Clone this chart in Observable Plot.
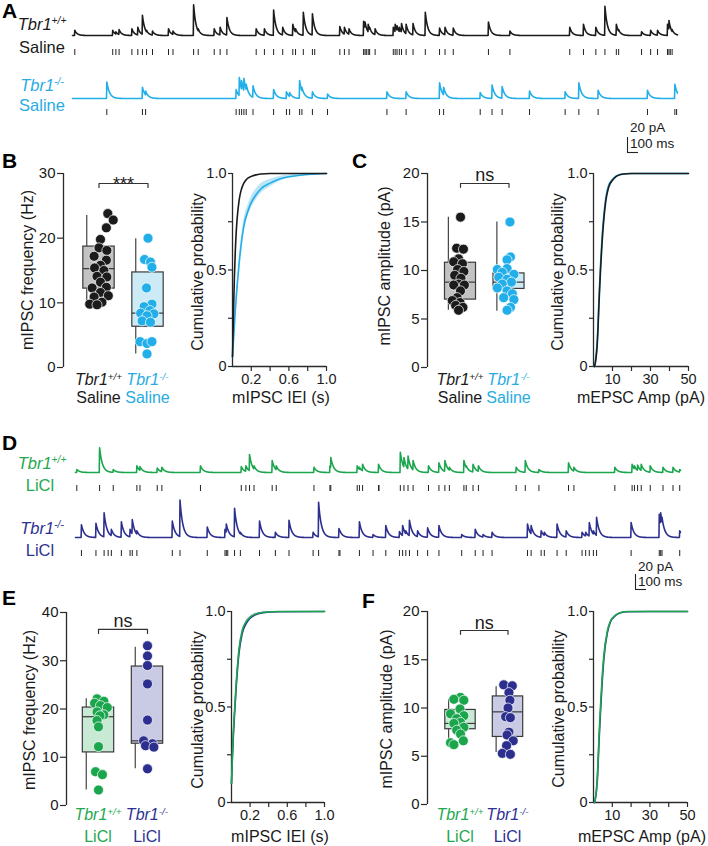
<!DOCTYPE html>
<html><head><meta charset="utf-8">
<script src="https://cdn.jsdelivr.net/npm/d3@7"></script>
<script src="https://cdn.jsdelivr.net/npm/@observablehq/plot@0.6"></script>
<style>
html,body{margin:0;padding:0;background:#fff;}
#root{position:relative;width:708px;height:846px;overflow:hidden;background:#fff;font-family:'Liberation Sans',Arial,Helvetica,sans-serif;color:#1a1a1a;}
.lbl{position:absolute;white-space:nowrap;line-height:1;}
.lbl sup{font-size:0.62em;line-height:0;vertical-align:0.55em;}
</style></head><body><div id="root"></div>
<script>
// ================= DATA =================
// Panel A / D traces: event times (ms) and peak amplitudes (pA)
const traceDomainA = [0, 5520];
const traceDomainD = [0, 5500];
const wtSalineEventMs = [21,367,396,425,542,596,638,676,730,876,917,1105,1147,1293,1347,1409,1676,1751,1835,1918,2010,2035,2106,2189,2210,2439,2481,2523,2656,2669,2681,2698,2711,2761,2927,2944,2961,2982,3002,3044,3107,3219,3349,3399,3474,3795,3991,4537,4662,4775,4858,4962,4983,5192,5275,5338,5429,5442,5454,5471];
const wtSalineEventPA = [7,7,5,8,9,11,27,7,6,9,6,41,9,9,11,24,9,9,34,11,15,9,31,29,8,12,11,9,19,18,10,15,11,9,11,15,13,11,16,15,16,31,10,11,10,18,6,11,15,11,39,15,8,5,7,7,15,20,10,8];
const koSalineEventMs = [313,638,667,1493,1522,1543,1564,1585,1647,1835,1952,1981,2072,2093,2189,2327,2869,3044,3349,3386,3720,3828,3920,4170,4495,4620,4796,5246,5496,5512];
const koSalineEventPA = [22,15,10,12,28,24,27,19,17,12,9,8,24,15,9,6,9,9,21,15,8,18,16,10,9,21,11,11,19,10];
const wtLiClEventMs = [12,219,343,558,586,743,785,1136,1507,1549,1582,1623,1788,1825,2168,2313,2321,2561,2581,2610,2755,2759,2953,2986,3023,3069,3209,3304,3358,3399,3531,3552,3614,3663,4006,4089,4213,4482,4531,4903,5060,5081,5110,5143,5225,5341,5432,5493];
const wtLiClEventPA = [4,33,4,9,8,6,7,9,8,9,24,9,16,9,7,9,20,9,7,11,11,5,27,20,22,16,9,13,16,7,16,9,11,9,7,16,4,13,7,7,11,9,10,11,9,7,7,4];
const koLiClEventMs = [54,186,260,297,326,417,496,516,558,880,950,1198,1359,1371,1384,1446,1499,1673,1817,1941,2160,2210,2395,2404,2581,2705,2821,2945,2974,3003,3036,3110,3201,3304,3511,3634,3705,3787,4109,4142,4233,4262,4378,4461,4605,4638,4671,4708,4737,5051,5307,5320,5332,5493];
const koLiClEventPA = [17,19,33,7,11,21,11,24,9,22,50,14,11,18,11,39,7,22,7,23,7,47,12,9,21,4,16,8,16,9,23,9,13,16,4,11,4,7,18,16,9,7,18,9,7,7,20,9,27,20,31,33,27,9];
const scaleBarPA = 20, scaleBarMs = 100;

// Group labels
const genotypeSup = ["+/+", "-/-"];
const treatmentTop = ["Saline", "Saline"];
const treatmentBottom = ["LiCl", "LiCl"];

// Box stats: [whisker low, Q1, median, Q3, whisker high]
const freqSalineWTStats = [10.0, 12.2, 15.3, 18.7, 23.5];
const freqSalineKOStats = [2.1, 6.3, 8.4, 14.7, 19.9];
const ampSalineWTStats = [5.9, 7.0, 8.8, 10.8, 15.5];
const ampSalineKOStats = [5.8, 8.1, 8.8, 9.7, 15.0];
const freqLiClWTStats = [3.2, 11.0, 18.4, 20.3, 22.1];
const freqLiClKOStats = [7.6, 12.8, 13.4, 28.8, 32.8];
const ampLiClWTStats = [6.2, 7.8, 8.4, 9.8, 10.9];
const ampLiClKOStats = [5.4, 7.0, 9.6, 11.2, 12.2];

// Individual cells (value) and their horizontal jitter (group units)
const freqSalineWT = [23.8,22.8,21.6,19.8,18.5,18.1,17.2,16.6,15.8,15.4,15.0,14.1,14.0,13.2,12.4,12.3,11.6,11.1,10.9,10.1,9.8,9.7];
const freqSalineWTJit = [0.18,0.29,0.15,0.03,0,0.16,-0.10,0.15,0.03,-0.09,0.10,-0.04,0.16,0.03,0.15,-0.14,0.03,0.19,-0.10,0.06,-0.19,-0.04];
const freqSalineKO = [20.0,16.7,16.3,15.5,12.3,9.8,9.4,8.8,8.4,8.3,8.0,7.2,7.0,4.0,3.7,4.0,2.1];
const freqSalineKOJit = [0,-0.07,0.05,0.08,-0.03,0.08,-0.08,0.04,-0.15,0.12,-0.02,-0.12,0.05,-0.16,-0.02,0.08,-0.02];
const ampSalineWT = [15.5,12.3,12.2,11.2,10.9,10.7,10.1,9.9,9.5,9.2,8.6,8.5,8.5,7.9,7.2,6.9,6.7,6.4,6.2,5.9];
const ampSalineWTJit = [0,-0.08,0.06,-0.04,-0.14,0.04,-0.06,0.07,-0.12,0.01,-0.04,-0.14,0.08,0,-0.07,-0.17,-0.01,-0.10,0.05,-0.04];
const ampSalineKO = [15.0,11.4,11.1,10.2,10.1,9.8,9.6,9.3,9.1,8.8,8.6,8.2,7.9,7.6,7.2,7.0,6.2,5.9];
const ampSalineKOJit = [0.02,0.03,-0.04,-0.04,-0.24,-0.14,0.10,-0.21,-0.04,0.05,-0.14,-0.24,-0.04,0.07,-0.11,0.10,0.03,-0.04];
const freqLiClWT = [22.1,21.6,21.2,20.7,20.3,19.4,18.8,18.6,17.6,16.3,12.2,7.0,6.4,3.2];
const freqLiClWTJit = [-0.03,0.11,-0.08,0.04,0.18,-0.03,0.11,0.03,-0.03,0,0,-0.06,0.08,0];
const freqLiClKO = [33.1,31.0,29.0,25.2,17.7,13.4,12.8,12.4,12.1,7.6];
const freqLiClKOJit = [0,0,0,0,0,-0.08,0.10,-0.04,0.13,0];
const ampLiClWT = [11.1,10.9,10.8,9.9,9.4,9.2,8.9,8.5,8.4,8.0,7.7,7.3,6.6,6.4,6.2];
const ampLiClWTJit = [0,-0.14,0.07,-0.01,-0.21,0.07,-0.08,0,-0.14,0.07,-0.08,0,0.06,-0.21,-0.14];
const ampLiClKO = [12.4,12.3,11.6,10.8,10.0,9.1,9.0,7.5,7.2,6.6,6.1,5.3,5.2];
const ampLiClKOJit = [-0.09,0.09,0.02,0.04,0,-0.05,0.05,0.02,-0.02,0.11,-0.03,-0.12,0.05];

// Cumulative distributions
const ieiWTSalineX = [0,0.005,0.01,0.02,0.03,0.04,0.05,0.07,0.09,0.12,0.15,0.2,0.25,0.3,0.4,0.6,1.0];
const ieiWTSalineY = [0.05,0.15,0.27,0.46,0.6,0.7,0.77,0.86,0.91,0.95,0.97,0.985,0.993,0.997,1,1,1];
const ieiKOSalineX = [0,0.01,0.02,0.03,0.05,0.07,0.10,0.13,0.16,0.20,0.25,0.30,0.40,0.50,0.60,0.70,0.80,0.90,1.0];
const ieiKOSalineY = [0.05,0.13,0.21,0.29,0.42,0.53,0.66,0.75,0.80,0.85,0.89,0.92,0.95,0.972,0.983,0.99,0.995,0.998,1.0];
const ieiKOSalineLo = [0.05,0.12,0.195,0.27,0.395,0.50,0.63,0.72,0.77,0.82,0.862,0.895,0.93,0.959,0.974,0.984,0.991,0.996,1.0];
const ieiKOSalineHi = [0.05,0.14,0.225,0.31,0.445,0.56,0.69,0.78,0.83,0.88,0.918,0.945,0.97,0.985,0.992,0.996,0.999,1.0,1.0];
const ampSalineCumX = [0.5,1,2,3,3.7,4.5,5.5,6.5,8,10,12,15,20,30,50];
const ampWTSalineCumY = [0,0.02,0.12,0.35,0.5,0.64,0.77,0.86,0.93,0.965,0.985,0.996,1,1,1];
const ampKOSalineCumY = [0,0.03,0.14,0.38,0.53,0.67,0.79,0.875,0.94,0.97,0.987,0.997,1,1,1];
const ieiLiClX = [0,0.01,0.02,0.035,0.05,0.08,0.115,0.15,0.2,0.25,0.34,0.5,1.0];
const ieiWTLiClY = [0.1,0.25,0.37,0.5,0.62,0.8,0.9,0.94,0.97,0.985,0.995,1,1];
const ieiKOLiClY = [0.1,0.24,0.35,0.48,0.6,0.78,0.885,0.93,0.965,0.982,0.994,0.999,1];
const ieiKOLiClLo = [0.1,0.23,0.335,0.46,0.58,0.76,0.865,0.915,0.955,0.975,0.99,0.998,1];
const ieiKOLiClHi = [0.1,0.25,0.365,0.5,0.62,0.8,0.9,0.945,0.975,0.99,0.998,1,1];
const ampLiClCumX = [0.5,1,2,3,3.7,4.5,5.5,7.4,9,11.6,14,18,30,50];
const ampWTLiClCumY = [0,0.02,0.13,0.36,0.5,0.64,0.77,0.9,0.95,0.98,0.993,1,1,1];
const ampKOLiClCumY = [0,0.02,0.11,0.33,0.47,0.61,0.75,0.89,0.945,0.978,0.992,0.999,1,1];

// Axis ticks and labels
const freqTicksSaline = [0, 10, 20, 30];
const ampTicksBox = [0, 5, 10, 15, 20];
const freqTicksLiCl = [0, 10, 20, 30, 40];
const cumTicks = [0, 0.25, 0.5, 0.75, 1];
const cumTickLabels = ["0", "", "0.5", "", "1.0"];
const ieiTicks = [0.2, 0.4, 0.6, 0.8, 1.0];
const ieiTickLabels = ["0.2", "", "0.6", "", "1.0"];
const ampTicks = [10, 20, 30, 40, 50];
const ampTickLabels = ["10", "", "30", "", "50"];

// ================= RENDER =================
const root = document.getElementById("root");
const W = 708, H = 846;
const FONT = "'Liberation Sans', Arial, Helvetica, sans-serif";
const BLACK = "#1b1b1b", BLUE = "#22aee8", GREEN = "#1ba64e", NAVY = "#2c2f8e";
const AXC = "#2a2a2a";
const K = 0.75; // px per pA

function addPlot({l, r, t, b, x, y, marks}) {
  const svg = Plot.plot({
    width: W, height: H,
    marginLeft: l, marginRight: W - r, marginTop: t, marginBottom: H - b,
    x, y, marks,
    style: `background: transparent; font-family: ${FONT}; color: #1a1a1a; position: absolute; left: 0; top: 0; overflow: visible;`
  });
  root.appendChild(svg);
}

function label(html, x, y, {size = 16, color = "#1a1a1a", anchor = "middle", weight = "normal", rotate = 0} = {}) {
  const d = document.createElement("div");
  d.className = "lbl";
  d.innerHTML = html;
  d.style.left = x + "px"; d.style.top = y + "px";
  d.style.fontSize = size + "px"; d.style.color = color; d.style.fontWeight = weight;
  const tx = anchor === "start" ? "0" : anchor === "end" ? "-100%" : "-50%";
  d.style.transform = `translate(${tx}, -50%)` + (rotate ? ` rotate(${rotate}deg)` : "");
  root.appendChild(d);
}
const geno = (s) => `<i>Tbr1<sup>${s}</sup></i>`;

function traceSeries(times, amps, tEnd, tau) {
  const pts = [];
  for (let t = 0; t <= tEnd; t += 1) {
    let v = 0;
    for (let i = 0; i < times.length; i++) {
      const dt = t - times[i];
      let e = 0;
      if (dt >= 0) e = amps[i] * Math.exp(-dt / tau);
      else if (dt > -3) e = amps[i] * (1 + dt / 3);
      if (e > v) v = e;
    }
    pts.push({t, v});
  }
  return pts;
}

function traceRow({times, amps, color, dom, l, r, top, bottom, baseline, tickTop, tickBottom, tau}) {
  addPlot({l, r, t: top, b: bottom,
    x: {domain: dom, axis: null},
    y: {domain: [-(bottom - baseline) / K, (baseline - top) / K], axis: null},
    marks: [Plot.line(traceSeries(times, amps, dom[1], tau), {x: "t", y: "v", stroke: color, strokeWidth: 1.6, strokeLinejoin: "round"})]
  });
  addPlot({l, r, t: tickTop, b: tickBottom,
    x: {domain: dom, axis: null},
    marks: [Plot.tickX(times, {x: d => d, stroke: "#222", strokeWidth: 1})]
  });
}

function scaleBar({dom, l, r, barX, barBottom}) {
  const tb = dom[1] * (barX - l) / (r - l);
  const top = barBottom - 40, bottom = barBottom + 5;
  addPlot({l, r, t: top, b: bottom,
    x: {domain: dom, axis: null},
    y: {domain: [-(bottom - barBottom) / K, (barBottom - top) / K], axis: null},
    marks: [
      Plot.ruleX([tb], {y1: 0, y2: scaleBarPA, stroke: "#222", strokeWidth: 1.1}),
      Plot.ruleY([0], {x1: tb, x2: tb + scaleBarMs, stroke: "#222", strokeWidth: 1.1})
    ]
  });
}

function boxPanel({l, r, t, b, c0, sp, yDomain, yTicks, groups, bracketY, tip, sig, sigDy}) {
  const xd = [(l - c0) / sp, (r - c0) / sp];
  const marks = [
    Plot.ruleX([xd[0]], {y1: yDomain[0], y2: yDomain[1], stroke: AXC, strokeWidth: 1.3}),
    Plot.axisY({ticks: yTicks, tickSize: 6, tickPadding: 2, fontSize: 15, label: null, tickFormat: d => String(d), stroke: AXC, strokeWidth: 1.2})
  ];
  groups.forEach((g, gi) => {
    const [lo, q1, med, q3, hi] = g.stats;
    marks.push(Plot.ruleX([gi - 0.25], {y1: lo, y2: hi, stroke: "#444", strokeWidth: 1.2}));
    marks.push(Plot.rect([g.stats], {x1: gi - 0.32, x2: gi + 0.32, y1: q1, y2: q3, fill: g.fill, stroke: "#3a3a3a", strokeWidth: 1.2}));
    marks.push(Plot.ruleY([med], {x1: gi - 0.32, x2: gi + 0.32, stroke: "#3a3a3a", strokeWidth: 1.2}));
    marks.push(Plot.dot(g.values.map((v, i) => ({x: gi + g.jit[i], y: v})), {x: "x", y: "y", r: 5, fill: g.color, stroke: "white", strokeWidth: 0.7}));
  });
  marks.push(Plot.line([{x: 0, y: bracketY - tip}, {x: 0, y: bracketY}, {x: 1, y: bracketY}, {x: 1, y: bracketY - tip}], {x: "x", y: "y", stroke: "#333", strokeWidth: 1.2}));
  marks.push(Plot.text([sig], {x: 0.5, y: bracketY, text: d => d, lineAnchor: "bottom", fontSize: 18, dy: sigDy, fill: "#1a1a1a"}));
  addPlot({l, r, t, b, x: {domain: xd, axis: null}, y: {domain: yDomain}, marks});
}

function cumPanel({l, r, t, b, xDomain, xTicks, xTickLabels, curves}) {
  const marks = [
    Plot.ruleX([xDomain[0]], {stroke: AXC, strokeWidth: 1.3}),
    Plot.ruleY([0], {stroke: AXC, strokeWidth: 1.3}),
    Plot.axisY({ticks: cumTicks, tickSize: 4, tickPadding: 2, fontSize: 14.5, label: null, tickFormat: d => cumTickLabels[cumTicks.indexOf(d)], stroke: AXC, strokeWidth: 1.2}),
    Plot.axisX({ticks: xTicks, tickSize: 5, tickPadding: 2, fontSize: 14.5, label: null, tickFormat: d => xTickLabels[xTicks.indexOf(d)], stroke: AXC, strokeWidth: 1.2})
  ];
  curves.forEach(c => {
    if (c.lo) marks.push(Plot.areaY(c.x.map((x, i) => ({x, lo: c.lo[i], hi: c.hi[i]})), {x: "x", y1: "lo", y2: "hi", fill: c.band, fillOpacity: 0.75, curve: "monotone-x"}));
  });
  curves.forEach(c => {
    marks.push(Plot.line(c.x.map((x, i) => ({x, y: c.y[i]})), {x: "x", y: "y", stroke: c.color, strokeWidth: 1.6, curve: "monotone-x"}));
  });
  addPlot({l, r, t, b, x: {domain: xDomain}, y: {domain: [0, 1]}, marks});
}

// ---- Panel A ----
traceRow({times: wtSalineEventMs, amps: wtSalineEventPA, color: BLACK, dom: traceDomainA, l: 72, r: 677, top: 0, bottom: 47, baseline: 35, tickTop: 49, tickBottom: 55, tau: 22});
traceRow({times: koSalineEventMs, amps: koSalineEventPA, color: BLUE, dom: traceDomainA, l: 72, r: 677, top: 60, bottom: 108, baseline: 98, tickTop: 109, tickBottom: 115, tau: 25});
scaleBar({dom: traceDomainA, l: 72, r: 677, barX: 627, barBottom: 152});

// ---- Panel D ----
traceRow({times: wtLiClEventMs, amps: wtLiClEventPA, color: GREEN, dom: traceDomainD, l: 75, r: 680, top: 435, bottom: 482, baseline: 472, tickTop: 485, tickBottom: 491, tau: 25});
traceRow({times: koLiClEventMs, amps: koLiClEventPA, color: NAVY, dom: traceDomainD, l: 75, r: 680, top: 495, bottom: 547, baseline: 537, tickTop: 550, tickBottom: 556, tau: 25});
scaleBar({dom: traceDomainD, l: 75, r: 680, barX: 635, barBottom: 589});

// ---- Panel B ----
boxPanel({l: 63, r: 178, t: 173, b: 367, c0: 98.5, sp: 49, yDomain: [0, 30], yTicks: freqTicksSaline,
  groups: [
    {stats: freqSalineWTStats, values: freqSalineWT, jit: freqSalineWTJit, color: BLACK, fill: "#c2c2c2"},
    {stats: freqSalineKOStats, values: freqSalineKO, jit: freqSalineKOJit, color: BLUE, fill: "#cdeaf7"}
  ], bracketY: 28.45, tip: 0.6, sig: "***", sigDy: 6});
cumPanel({l: 232, r: 326, t: 173, b: 366, xDomain: [0, 1], xTicks: ieiTicks, xTickLabels: ieiTickLabels,
  curves: [
    {x: ieiKOSalineX, y: ieiKOSalineY, lo: ieiKOSalineLo, hi: ieiKOSalineHi, color: BLUE, band: "#a6dcf4"},
    {x: ieiWTSalineX, y: ieiWTSalineY, color: BLACK}
  ]});

// ---- Panel C ----
boxPanel({l: 427, r: 540, t: 173, b: 367, c0: 460, sp: 48.5, yDomain: [0, 20], yTicks: ampTicksBox,
  groups: [
    {stats: ampSalineWTStats, values: ampSalineWT, jit: ampSalineWTJit, color: BLACK, fill: "#c2c2c2"},
    {stats: ampSalineKOStats, values: ampSalineKO, jit: ampSalineKOJit, color: BLUE, fill: "#cdeaf7"}
  ], bracketY: 18.97, tip: 0.4, sig: "ns", sigDy: -2});
cumPanel({l: 593, r: 688, t: 173, b: 366, xDomain: [0, 50], xTicks: ampTicks, xTickLabels: ampTickLabels,
  curves: [
    {x: ampSalineCumX, y: ampKOSalineCumY, color: BLUE},
    {x: ampSalineCumX, y: ampWTSalineCumY, color: BLACK}
  ]});

// ---- Panel E ----
boxPanel({l: 66, r: 178, t: 612, b: 805, c0: 98, sp: 49, yDomain: [0, 40], yTicks: freqTicksLiCl,
  groups: [
    {stats: freqLiClWTStats, values: freqLiClWT, jit: freqLiClWTJit, color: GREEN, fill: "#c8ead4"},
    {stats: freqLiClKOStats, values: freqLiClKO, jit: freqLiClKOJit, color: NAVY, fill: "#c9cae3"}
  ], bracketY: 36.5, tip: 0.85, sig: "ns", sigDy: -2});
cumPanel({l: 231, r: 324, t: 611, b: 802, xDomain: [0, 1], xTicks: ieiTicks, xTickLabels: ieiTickLabels,
  curves: [
    {x: ieiLiClX, y: ieiKOLiClY, lo: ieiKOLiClLo, hi: ieiKOLiClHi, color: NAVY, band: "#a9abd6"},
    {x: ieiLiClX, y: ieiWTLiClY, color: GREEN}
  ]});

// ---- Panel F ----
boxPanel({l: 427, r: 540, t: 611, b: 804, c0: 460, sp: 47.5, yDomain: [0, 20], yTicks: ampTicksBox,
  groups: [
    {stats: ampLiClWTStats, values: ampLiClWT, jit: ampLiClWTJit, color: GREEN, fill: "#c8ead4"},
    {stats: ampLiClKOStats, values: ampLiClKO, jit: ampLiClKOJit, color: NAVY, fill: "#c9cae3"}
  ], bracketY: 18.03, tip: 0.4, sig: "ns", sigDy: -2});
cumPanel({l: 593, r: 687, t: 611, b: 802, xDomain: [0, 50], xTicks: ampTicks, xTickLabels: ampTickLabels,
  curves: [
    {x: ampLiClCumX, y: ampKOLiClCumY, color: NAVY},
    {x: ampLiClCumX, y: ampWTLiClCumY, color: GREEN}
  ]});

// ---- Text labels ----
const LBLUE = "#29abe2", LGREEN = "#1fa84f", LNAVY = "#2e3192";
// panel letters
[["A", 2, 10], ["B", 2, 160], ["C", 352, 160], ["D", 2, 442], ["E", 2, 597], ["F", 362, 600]].forEach(([s, x, y]) =>
  label(s, x, y, {size: 21, weight: "bold", anchor: "start", color: "#000"}));
// trace row labels
label(geno(genotypeSup[0]), 42, 24, {size: 16.5});
label(treatmentTop[0], 42, 47, {size: 16.5});
label(geno(genotypeSup[1]), 42, 85, {size: 16.5, color: LBLUE});
label(treatmentTop[1], 42, 105, {size: 16.5, color: LBLUE});
label(geno(genotypeSup[0]), 42, 463, {size: 16.5, color: LGREEN});
label(treatmentBottom[0], 40, 485, {size: 16.5, color: LGREEN});
label(geno(genotypeSup[1]), 42, 528, {size: 16.5, color: LNAVY});
label(treatmentBottom[1], 40, 550, {size: 16.5, color: LNAVY});
// scale bars
label(`${scaleBarPA} pA`, 630, 128, {size: 13.5, anchor: "start"});
label(`${scaleBarMs} ms`, 630, 144, {size: 13.5, anchor: "start"});
label(`${scaleBarPA} pA`, 638, 567, {size: 13.5, anchor: "start"});
label(`${scaleBarMs} ms`, 638, 582, {size: 13.5, anchor: "start"});
// group labels under box plots
[[98.5, 147.5, 380, 398, treatmentTop, BLACK, LBLUE], [460, 508.5, 380, 398, treatmentTop, BLACK, LBLUE],
 [98, 147, 815, 837, treatmentBottom, LGREEN, LNAVY], [460, 507.5, 815, 837, treatmentBottom, LGREEN, LNAVY]]
 .forEach(([x0, x1, y0, y1, tr, c0, c1]) => {
   label(geno(genotypeSup[0]), x0, y0, {size: 16, color: c0});
   label(geno(genotypeSup[1]), x1, y0, {size: 16, color: c1});
   label(tr[0], x0, y1, {size: 16, color: c0});
   label(tr[1], x1, y1, {size: 16, color: c1});
 });
// axis titles
label("mIPSC frequency (Hz)", 28, 270, {size: 16, rotate: -90});
label("mIPSC amplitude (pA)", 385, 266, {size: 16, rotate: -90});
label("mIPSC frequency (Hz)", 30, 710, {size: 16, rotate: -90});
label("mIPSC amplitude (pA)", 387, 709, {size: 16, rotate: -90});
label("Cumulative probability", 198, 272, {size: 16, rotate: -90});
label("Cumulative probability", 558, 272, {size: 16, rotate: -90});
label("Cumulative probability", 198, 710, {size: 16, rotate: -90});
label("Cumulative probability", 559, 709, {size: 16, rotate: -90});
label("mIPSC IEI (s)", 281, 398, {size: 16});
label("mEPSC Amp (pA)", 641, 398, {size: 16});
label("mIPSC IEI (s)", 280, 837, {size: 16});
label("mEPSC Amp (pA)", 642, 837, {size: 16});
</script></body></html>
